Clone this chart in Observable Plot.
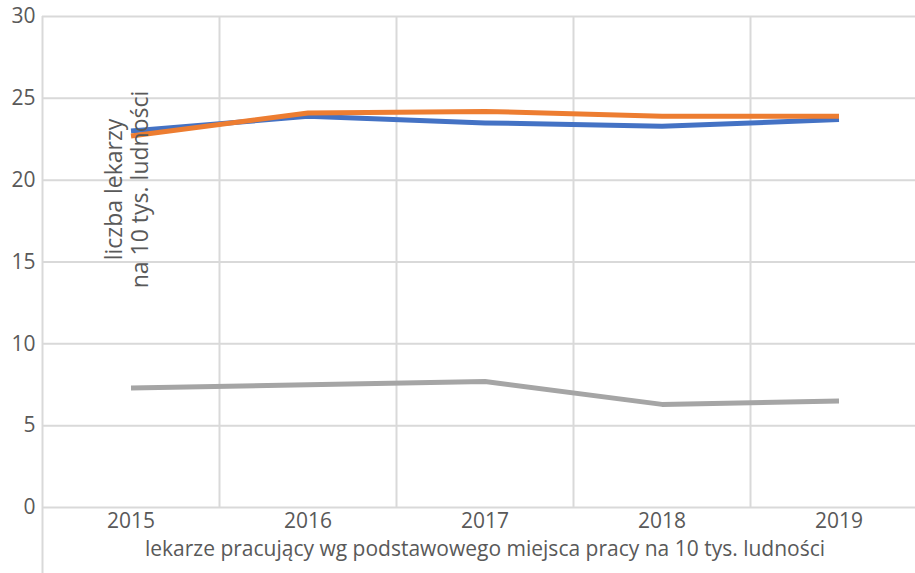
<!DOCTYPE html>
<html>
<head>
<meta charset="utf-8">
<script src="https://cdn.jsdelivr.net/npm/d3@7"></script>
<script src="https://cdn.jsdelivr.net/npm/@observablehq/plot@0.6"></script>
<style>
  html, body { margin: 0; padding: 0; background: #fff; }
</style>
</head>
<body>
<div id="chart"></div>
<script>
const years = [2015, 2016, 2017, 2018, 2019];
const seriesBlue = [23.0, 23.9, 23.5, 23.3, 23.7];
const seriesOrange = [22.7, 24.1, 24.2, 23.9, 23.9];
const seriesGray = [7.3, 7.5, 7.7, 6.3, 6.5];
const yTicks = [0, 5, 10, 15, 20, 25, 30];
const seriesNames = ["A", "B", "C"];
const seriesColors = ["#4472C4", "#ED7D31", "#A5A5A5"];
const xTitle = "lekarze pracujący wg podstawowego miejsca pracy na 10 tys. ludności";
const yTitle = ["liczba lekarzy", "na 10 tys. ludności"];

const rows = [];
[seriesBlue, seriesOrange, seriesGray].forEach((vals, k) => {
  years.forEach((yr, i) => rows.push({year: yr, value: vals[i], series: seriesNames[k]}));
});
const boundaries = years.map(y => y + 0.5);

const chart = Plot.plot({
  width: 915,
  height: 573,
  marginTop: 16,
  marginBottom: 66,
  marginLeft: 42,
  marginRight: -12,
  style: {fontFamily: "'Open Sans', sans-serif", fontSize: "21px", color: "#595959", background: "#fff"},
  x: {type: "linear", domain: [years[0] - 0.5, years[years.length - 1] + 0.5], ticks: years, tickFormat: d => String(d), tickSize: 0, tickPadding: 6, label: null},
  y: {domain: [0, 30], ticks: yTicks, tickSize: 0, tickPadding: 7, label: null},
  color: {domain: seriesNames, range: seriesColors},
  marks: [
    Plot.ruleY(yTicks, {stroke: "#d9d9d9", strokeWidth: 2}),
    Plot.ruleX(boundaries, {stroke: "#d9d9d9", strokeWidth: 2}),
    Plot.ruleX([years[0] - 0.5], {stroke: "#d9d9d9", strokeWidth: 2, insetBottom: -66}),
    Plot.line(rows, {x: "year", y: "value", z: "series", stroke: "series", strokeWidth: 5, strokeLinecap: "butt", strokeLinejoin: "round"}),
    Plot.text([xTitle], {frameAnchor: "bottom", dy: 42, lineAnchor: "middle", fill: "#595959", fontSize: 21}),
    Plot.text([yTitle.join("\n")], {frameAnchor: "top-left", dx: 84, dy: 173, rotate: -90, textAnchor: "middle", lineAnchor: "middle", lineHeight: 1.13, fill: "#595959", fontSize: 23})
  ]
});
document.getElementById("chart").appendChild(chart);
</script>
</body>
</html>
